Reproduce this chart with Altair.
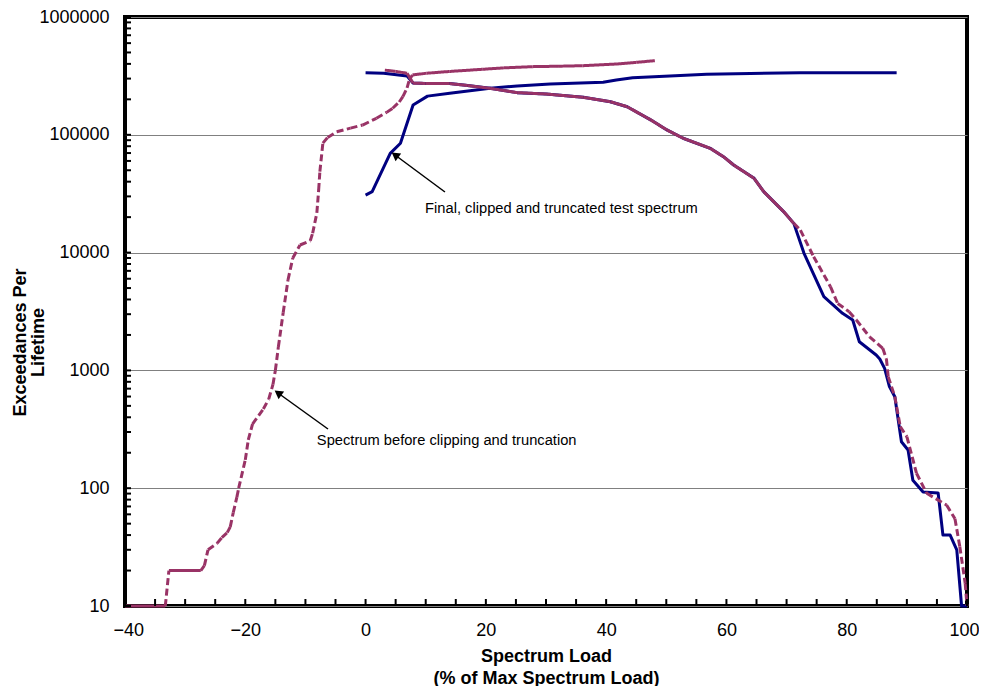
import altair as alt
import pandas as pd

# ---------------- data ----------------
# Spectrum before clipping and truncation (magenta, dashed)
mag_valley_x = [-40, -33.3, -32.7, -27.4, -26.8, -26.2, -24.7, -23.9, -23.0, -22.5, -22.0, -21.4,
                -21.1, -20.0, -19.5, -18.8, -17.0, -16.1, -15.4, -15.0, -14.5, -13.7, -12.9, -12.1,
                -10.9, -9.2, -8.8, -8.1, -7.8, -7.6, -7.1, -6.3, -4.8, -2.5, -0.5, 1.8, 3.5, 4.5,
                5.6, 6.2, 6.9, 7.3, 7.8, 10.1, 14, 19.5, 23, 27.8, 32, 36.1, 41.8, 45, 48.1]
mag_valley_y = [10, 10, 20, 20, 22, 30, 34, 38, 42, 47, 62, 84,
                100, 174, 257, 350, 470, 570, 760, 1000, 1580, 3090, 5850, 9000,
                11600, 12600, 14600, 21700, 34000, 48600, 85000, 95000, 106000, 114000, 121000, 138000, 155000, 168000,
                190000, 211000, 250000, 295000, 322000, 333000, 345000, 360000, 370000, 379000, 382000, 386000, 399000, 412000, 426000]

mag_peak_x = [3.2, 5.0, 6.9, 7.9, 10, 14, 17, 20.7, 25.2, 30, 36.2, 40.7, 43.5, 47.4, 50.1, 52.8,
              57.3, 59.5, 61.2, 64.6, 66.2, 69.5, 71.2, 72.3, 74.5, 77.3, 78.5, 80.4, 81.6, 83.8,
              86.0, 86.6, 86.9, 88.0, 88.9, 90.0, 91.6, 93.3, 96.6, 98.0, 98.8, 99.7, 100]
mag_peak_y = [354000, 345000, 333000, 274000, 273000, 272000, 262000, 248000, 228000, 222000, 208000,
              191000, 173000, 134000, 110000, 93500, 76800, 65200, 55400, 42700, 32900, 22300, 17700,
              15500, 9230, 5140, 3700, 3150, 2680, 1930, 1540, 1250, 885, 598, 333, 274, 134, 90.5,
              72, 55, 32, 15.6, 10]

# Final, clipped and truncated test spectrum (navy, solid)
blue_peak_x = [0, 3, 6.9, 7.9, 10, 14, 17, 20.7, 25.2, 30, 36.2, 40.7, 43.5, 47.4, 50.1, 52.8, 57.3,
               59.5, 61.2, 64.6, 66.2, 69.5, 71.2, 72.9, 76.2, 79.3, 81.0, 82.1, 84.9, 85.5, 86.3,
               87.1, 88.0, 89.1, 90.2, 91.0, 92.7, 95.2, 96.0, 97.2, 98.3, 99.1, 100]
blue_peak_y = [336000, 333000, 316000, 275000, 273000, 272000, 262000, 248000, 228000, 222000, 208000,
               191000, 173000, 134000, 110000, 93500, 76800, 65200, 55400, 42700, 32900, 22300, 17700,
               9860, 4230, 3050, 2680, 1750, 1350, 1250, 1040, 728, 598, 248, 211, 117, 93, 91, 40,
               40, 30, 10, 10]

blue_valley_x = [0, 1.1, 4.1, 5.8, 7.9, 10.3, 14, 20.7, 25.2, 30.7, 39.5, 41.7, 44.4, 50.6, 56.7, 64, 72.2, 88.3]
blue_valley_y = [30800, 32900, 69600, 84700, 179000, 213000, 225000, 248000, 260000, 270000, 279000,
                 292000, 305000, 316000, 326000, 332000, 336000, 336000]

x_tick_labels = [-40, -20, 0, 20, 40, 60, 80, 100]
y_tick_labels = [10, 100, 1000, 10000, 100000, 1000000]

notes_text = ["Final, clipped and truncated test spectrum", "Spectrum before clipping and truncation"]
notes_x = [9.9, -8.1]
notes_y = [23400, 252]
arrow_tail_x = [13.2, -6.25]
arrow_tail_y = [32700, 318]
arrow_tip_x = [4.9, -14.56]
arrow_tip_y = [67400, 643]

# ---------------- tables ----------------
blue_rows = []
for name, xs, ys in [("peak", blue_peak_x, blue_peak_y), ("valley", blue_valley_x, blue_valley_y)]:
    for i, (x, y) in enumerate(zip(xs, ys)):
        blue_rows.append({"seg": name, "o": i, "x": x, "y": y})
blue_df = pd.DataFrame(blue_rows)


def mag_dense(curve, x0, x1, y0, y1):
    # Excel restarts the dash on each short segment, so dense parts look solid
    if y0 == y1:
        return True
    if curve == "valley" and x0 >= 7.3:
        return True
    if curve == "peak" and x1 <= 71.2:
        return True
    return False


mag_rows = []
for name, xs, ys in [("valley", mag_valley_x, mag_valley_y), ("peak", mag_peak_x, mag_peak_y)]:
    for i in range(len(xs) - 1):
        style = "solid" if mag_dense(name, xs[i], xs[i + 1], ys[i], ys[i + 1]) else "dash"
        for j in (0, 1):
            mag_rows.append({"seg": f"{name}{i}", "o": j, "x": xs[i + j], "y": ys[i + j], "style": style})
mag_df = pd.DataFrame(mag_rows)

ytick_vals = [k * 10 ** e for e in range(1, 6) for k in range(1, 10)] + [1000000]
xtick_vals = list(range(-40, 101, 5))

notes_df = pd.DataFrame({"t": notes_text, "x": notes_x, "y": notes_y})
arrows_df = pd.DataFrame({"x": arrow_tail_x, "y": arrow_tail_y, "x2": arrow_tip_x, "y2": arrow_tip_y})

# ---------------- chart ----------------
FONT = "Liberation Sans"
xscale = alt.Scale(domain=[-40, 100], nice=False, zero=False)
yscale = alt.Scale(type="log", domain=[10, 1000000], nice=False)

x_axis = alt.Axis(values=x_tick_labels, grid=False, domain=False, ticks=False, tickSize=0,
                  labelFont=FONT, labelFontSize=18, labelColor="black", labelPadding=15,
                  labelFlush=True, labelFlushOffset=12, labelOverlap=False,
                  title=["Spectrum Load", "(% of Max Spectrum Load)"], titleFont=FONT,
                  titleFontSize=18, titleFontWeight="bold", titleColor="black",
                  titleLineHeight=22, titleBaseline="top", titleY=41)
y_axis = alt.Axis(values=y_tick_labels, format="d", grid=True, gridColor="#808080", gridWidth=1,
                  domain=False, ticks=False, tickSize=0, labelFont=FONT, labelFontSize=18,
                  labelColor="black", labelPadding=16, labelFlush=False, labelOverlap=False,
                  title=["Exceedances Per", "Lifetime"], titleFont=FONT, titleFontSize=18,
                  titleFontWeight="bold", titleColor="black", titleLineHeight=18,
                  titleAngle=270, titleAlign="center", titleBaseline="middle",
                  titleX=-105, titleY=325)


def X(field):
    return alt.X(field, type="quantitative", scale=xscale, axis=x_axis)


def Y(field):
    return alt.Y(field, type="quantitative", scale=yscale, axis=y_axis)


blue = alt.Chart(blue_df).mark_line(color="#000080", strokeWidth=3, strokeJoin="round").encode(
    x=X("x"), y=Y("y"), detail="seg:N", order="o:Q",
)

mag = alt.Chart(mag_df).mark_line(color="#993366", strokeWidth=3).encode(
    x=X("x"), y=Y("y"), detail="seg:N", order="o:Q",
    strokeDash=alt.StrokeDash("style:N", scale=alt.Scale(domain=["solid", "dash"], range=[[1, 0], [7, 3.5]]),
                              legend=None),
)

yticks = alt.Chart(pd.DataFrame({"y": ytick_vals})).mark_rule(color="black", strokeWidth=2).encode(
    y=Y("y"), x=alt.value(0), x2=alt.value(6),
)
xticks = alt.Chart(pd.DataFrame({"x": xtick_vals})).mark_rule(color="black", strokeWidth=2).encode(
    x=X("x"), y=alt.value(589), y2=alt.value(582),
)

notes = alt.Chart(notes_df).mark_text(align="left", baseline="middle", font=FONT, fontSize=14.7,
                                      color="black").encode(
    x=X("x"), y=Y("y"), text="t:N",
)
arrow_lines = alt.Chart(arrows_df).mark_rule(color="black", strokeWidth=1.5).encode(
    x=X("x"), y=Y("y"), x2="x2:Q", y2="y2:Q",
)
arrow_heads = alt.Chart(arrows_df).mark_point(shape="triangle-up", filled=True, size=90, color="black",
                                              opacity=1, angle=306).encode(
    x=X("x2"), y=Y("y2"),
)

chart = alt.layer(blue, mag, yticks, xticks, arrow_lines, arrow_heads, notes).properties(
    width=842,
    height=589,
    autosize=alt.AutoSizeParams(type="none"),
    padding={"left": 117, "top": 9, "right": 12, "bottom": 80},
    background="white",
).configure_view(stroke="black", strokeWidth=4)

chart.save("out.html", embed_options={"renderer": "svg", "actions": False})
